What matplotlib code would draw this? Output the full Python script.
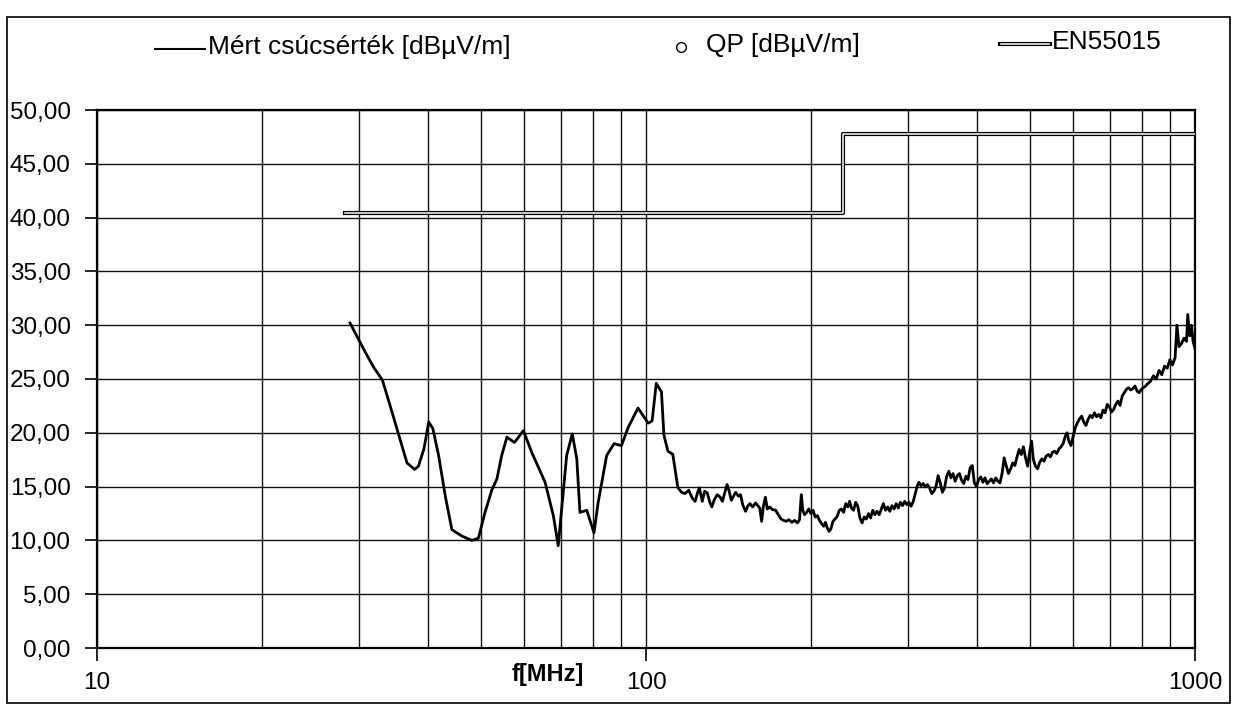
import matplotlib
matplotlib.use("Agg")
import matplotlib.pyplot as plt
from matplotlib.lines import Line2D
from matplotlib.patches import Rectangle
from matplotlib.ticker import FixedLocator, FuncFormatter, NullFormatter

plt.rcParams['font.family'] = ['Liberation Sans', 'DejaVu Sans']

# ---- data: measured peak curve, read from the picture ----
# 29 - 116 MHz (smooth resonances)
low_freq = [28.9, 30.8, 31.9, 33.1, 34.2, 35.5, 36.7, 37.9, 38.5, 39.4, 40.2, 40.9, 41.9,
            43.1, 44.3, 46.2, 48.2, 49.5, 50.9, 52.4, 53.5, 54.6, 55.8, 57.6, 59.8, 61.9,
            65.5, 67.8, 69.2, 70.2, 71.7, 73.4, 74.8, 75.8, 78.0, 80.4, 81.8, 84.8, 87.5,
            90.2, 92.8, 96.7, 100.9, 102.6, 104.4, 106.7, 107.8, 109.6, 111.9, 114.3]
low_peak = [30.2, 27.5, 26.1, 24.9, 22.5, 19.7, 17.2, 16.6, 16.9, 18.5, 21.0, 20.4, 17.9,
            14.1, 11.0, 10.4, 10.0, 10.2, 12.6, 14.7, 15.7, 17.9, 19.6, 19.1, 20.2, 18.2,
            15.4, 12.3, 9.5, 12.9, 17.9, 19.9, 17.6, 12.6, 12.8, 10.7, 13.5, 17.9, 19.0,
            18.8, 20.5, 22.3, 20.9, 21.1, 24.6, 23.8, 19.8, 18.3, 18.0, 14.9]

# 116 - 300 MHz (noisy floor)
mid_freq = [116.1, 117.8, 119.6, 121.4, 122.9, 124.2, 125.1, 126.6, 127.9, 129.3, 130.8,
            131.8, 133.2, 134.8, 136.4, 137.8, 139.2, 140.5, 141.6, 143.0, 144.3, 145.6,
            147.4, 148.7, 150.0, 151.8, 153.2, 154.6, 156.4, 158.3, 159.9, 161.1, 162.4,
            163.6, 165.0, 166.3, 168.0, 170.0, 172.3, 174.1, 176.2, 178.1, 180.2, 182.1,
            184.3, 186.5, 188.7, 190.4, 191.8, 193.0, 194.4, 196.2, 197.9, 199.7, 201.5,
            203.3, 205.2, 207.0, 208.9, 210.7, 212.3, 213.9, 215.5, 217.1, 219.1, 221.0,
            223.0, 225.0, 227.0, 229.1, 231.1, 233.2, 234.9, 236.7, 238.8, 241.0, 243.1,
            245.3, 247.5, 249.7, 252.0, 254.3, 256.5, 258.8, 261.2, 263.5, 265.9, 268.3,
            270.7, 273.1, 275.6, 278.0, 280.5, 283.1, 285.6, 288.2, 290.7, 293.4, 296.0,
            298.7]
mid_peak = [14.47, 14.35, 14.66, 13.94, 13.63, 14.47, 14.88, 13.63, 14.57, 14.41, 13.48,
            13.11, 13.79, 14.25, 14.04, 13.63, 14.47, 15.19, 14.66, 13.73, 14.10, 14.47,
            14.10, 14.25, 13.32, 12.70, 13.17, 13.42, 13.11, 13.48, 13.23, 13.01, 11.77,
            13.17, 14.01, 12.92, 13.11, 12.86, 12.80, 12.39, 11.99, 11.86, 11.77, 11.93,
            11.68, 11.86, 11.62, 11.93, 14.25, 12.80, 12.39, 12.61, 12.92, 12.49, 12.80,
            12.17, 12.30, 11.86, 11.55, 11.31, 11.68, 11.15, 10.84, 11.06, 11.77, 11.99,
            12.24, 12.80, 12.92, 12.61, 13.42, 13.11, 13.63, 13.01, 12.80, 13.54, 13.17,
            12.08, 11.62, 12.17, 11.99, 12.49, 12.08, 12.80, 12.39, 12.70, 12.39, 12.92,
            13.42, 12.80, 13.11, 12.70, 13.23, 12.92, 13.42, 13.01, 13.54, 13.23, 13.63,
            13.32]

# 300 - 820 MHz (rising noisy floor)
high_freq = [301.3, 304.0, 306.8, 309.5, 311.8, 314.2, 317.0, 319.8, 322.7, 325.6, 328.5,
             331.5, 334.5, 337.5, 340.5, 343.6, 346.6, 349.8, 352.9, 356.1, 359.3, 362.5,
             365.7, 369.0, 372.3, 375.7, 379.1, 382.5, 385.9, 389.4, 392.9, 396.4, 400.0,
             403.5, 407.2, 410.8, 414.5, 418.2, 422.0, 425.8, 429.6, 433.5, 437.4, 441.3,
             445.2, 449.2, 453.3, 457.4, 461.5, 465.6, 469.8, 474.0, 478.3, 482.6, 486.9,
             491.3, 495.7, 500.1, 503.9, 507.6, 512.2, 516.8, 521.4, 526.1, 530.9, 535.6,
             540.4, 545.3, 550.2, 555.1, 560.1, 565.1, 570.2, 575.3, 580.5, 584.8, 589.2,
             594.5, 599.9, 605.2, 610.7, 616.2, 621.7, 627.3, 632.9, 638.6, 644.3, 650.1,
             656.0, 661.8, 667.8, 673.8, 679.8, 685.9, 692.1, 698.3, 704.6, 710.9, 717.3,
             723.7, 730.3, 736.8, 743.4, 750.1, 756.8, 763.6, 770.5, 777.4, 784.4, 791.4,
             798.5, 805.7, 813.0, 817.8]
high_peak = [13.54, 13.17, 13.63, 14.41, 15.03, 15.40, 15.09, 15.28, 14.97, 15.19, 14.88,
             14.35, 14.57, 15.03, 16.02, 15.34, 14.47, 14.88, 15.96, 16.43, 15.81, 16.21,
             15.50, 16.02, 16.21, 15.59, 15.28, 15.96, 15.65, 16.74, 16.96, 15.34, 15.03,
             15.65, 15.90, 15.40, 15.81, 15.28, 15.50, 15.71, 15.34, 15.81, 15.50, 15.34,
             16.21, 17.67, 16.89, 16.21, 16.65, 17.21, 16.96, 17.76, 18.45, 17.98, 18.70,
             17.67, 16.89, 18.29, 19.22, 17.52, 16.89, 16.65, 17.27, 17.58, 17.36, 17.83,
             17.98, 17.76, 18.20, 18.29, 18.07, 18.51, 18.70, 19.01, 19.69, 20.00, 19.22,
             18.82, 19.69, 20.47, 20.93, 21.30, 21.55, 20.99, 20.68, 21.24, 21.62, 21.40,
             21.86, 21.49, 21.71, 21.40, 22.11, 21.86, 22.64, 22.42, 21.93, 22.17, 22.64,
             22.95, 22.55, 23.42, 23.73, 24.04, 24.19, 23.98, 24.10, 24.35, 23.88, 23.73,
             24.04, 24.19, 24.35, 24.50]

# 820 - 1000 MHz
top_freq = [830, 840, 850, 860, 870, 880, 890, 900, 910, 920, 927, 935, 945, 955, 965,
            970, 978, 985, 992, 1000]
top_peak = [24.8, 25.3, 25.0, 25.8, 25.4, 26.2, 26.0, 26.8, 26.3, 27.0, 30.0, 28.0, 28.3,
            28.8, 28.5, 31.0, 29.0, 30.0, 28.5, 27.8]

freq_mhz = low_freq + mid_freq + high_freq + top_freq
peak_dbuv = low_peak + mid_peak + high_peak + top_peak

qp_freq = []
qp_dbuv = []

limit_freq = [28.3, 228, 228, 1000]
limit_dbuv = [40.4, 40.4, 47.8, 47.8]

y_ticks = [0, 5, 10, 15, 20, 25, 30, 35, 40, 45, 50]
x_major = [10, 100, 1000]
x_minor = [20, 30, 40, 50, 60, 70, 80, 90, 200, 300, 400, 500, 600, 700, 800, 900]

label_peak = "Mért csúcsérték [dBµV/m]"
label_qp = "QP [dBµV/m]"
label_lim = "EN55015"
x_title = "f[MHz]"

# ---- figure ----
W, H = 1237, 706
fig = plt.figure(figsize=(W / 100, H / 100), dpi=100)
ax = fig.add_axes([97 / W, 1 - 648 / H, (1195 - 97) / W, (648 - 110) / H])

ax.set_xscale('log')
ax.set_xlim(10, 1000)
ax.set_ylim(0, 50)

ax.xaxis.set_major_locator(FixedLocator(x_major))
ax.xaxis.set_minor_locator(FixedLocator(x_minor))
ax.xaxis.set_major_formatter(FuncFormatter(lambda v, p: f"{v:g}"))
ax.xaxis.set_minor_formatter(NullFormatter())
ax.yaxis.set_major_locator(FixedLocator(y_ticks))
ax.yaxis.set_major_formatter(FuncFormatter(lambda v, p: f"{v:.2f}".replace('.', ',')))

ax.grid(True, which='both', color='#111111', linewidth=1.0)
ax.set_axisbelow(True)
ax.tick_params(axis='both', which='major', direction='out', length=9, width=1.2,
               labelsize=17.5, colors='black')
ax.tick_params(axis='y', pad=10)
ax.tick_params(axis='x', pad=8)
ax.tick_params(axis='x', which='minor', length=0)
for s in ax.spines.values():
    s.set_linewidth(1.6)
    s.set_color('black')

# measured curve
ax.plot(freq_mhz, peak_dbuv, color='black', linewidth=2.0, solid_joinstyle='round', zorder=3)
ax.plot(qp_freq, qp_dbuv, linestyle='none', marker='o', mfc='white', mec='black')
# limit (double line)
ax.plot(limit_freq, limit_dbuv, color='black', linewidth=3.0, zorder=4)
ax.plot(limit_freq, limit_dbuv, color='white', linewidth=1.1, zorder=5)

ax.text((548 - 97) / (1195 - 97), (648 - 674) / (648 - 110), x_title, transform=ax.transAxes,
        ha='center', va='center', fontsize=17, fontweight='bold')

# legend drawn at figure level
def fy(y):
    return 1 - y / H

def fx(x):
    return x / W

fig.add_artist(Line2D([fx(155), fx(205)], [fy(49), fy(49)], color='black', linewidth=1.5))
fig.text(fx(208), fy(47), label_peak, fontsize=19, va='center', ha='left')
fig.add_artist(Line2D([fx(681)], [fy(47)], marker='o', markersize=7, mfc='white', mec='black',
                      linestyle='none'))
fig.text(fx(706), fy(45), label_qp, fontsize=19, va='center', ha='left')
fig.add_artist(Line2D([fx(1000), fx(1050)], [fy(44), fy(44)], color='black', linewidth=3.0))
fig.add_artist(Line2D([fx(1001), fx(1049)], [fy(44), fy(44)], color='white', linewidth=1.1))
fig.text(fx(1052), fy(42), label_lim, fontsize=19, va='center', ha='left')

# outer frame
fig.add_artist(Rectangle((fx(7), fy(703)), fx(1230) - fx(7), fy(17) - fy(703),
                         fill=False, edgecolor='black', linewidth=1.2,
                         transform=fig.transFigure))

fig.savefig('out.png', dpi=100)
